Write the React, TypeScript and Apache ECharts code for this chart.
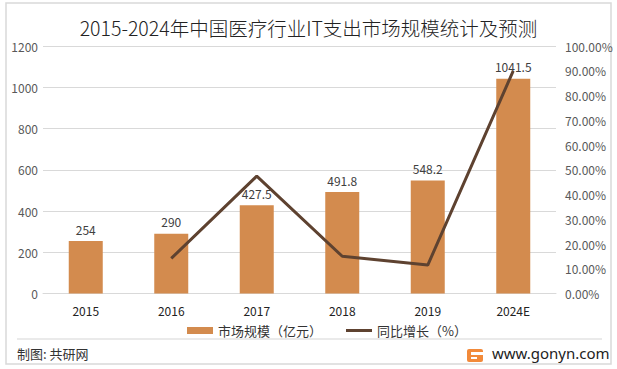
import React, { useEffect, useRef } from "react";
import * as echarts from "echarts";

const categories = ["2015", "2016", "2017", "2018", "2019", "2024E"];
const marketSize = [254, 290, 427.5, 491.8, 548.2, 1041.5];
const growth = [null, 0.1417, 0.4741, 0.1504, 0.1147, 0.8999];
const seriesNames = ["市场规模（亿元）", "同比增长（%）"];
const titleText = "2015-2024年中国医疗行业IT支出市场规模统计及预测";
const sourceText = "制图: 共研网";
const siteText = "www.gonyn.com";

const FONT = "'Noto Sans CJK SC', 'Noto Sans', sans-serif";

export default function App() {
  const ref = useRef<HTMLDivElement>(null);
  useEffect(() => {
    if (!ref.current) return;
    const chart = echarts.init(ref.current, null, { renderer: "svg" });
    chart.setOption({
      animation: false,
      backgroundColor: "#ffffff",
      textStyle: { fontFamily: FONT },
      title: {
        text: titleText,
        left: "center",
        top: 13,
        textStyle: { fontSize: 19.5, fontWeight: 300, color: "#222222", fontFamily: FONT },
      },
      grid: { left: 43, right: 61, top: 46, bottom: 75.5 },
      legend: {
        left: 182,
        top: 319,
        itemWidth: 26,
        itemHeight: 7,
        itemGap: 24,
        textStyle: { fontSize: 13, color: "#333333", fontFamily: FONT },
        data: [
          { name: seriesNames[0], icon: "rect" },
          { name: seriesNames[1], icon: "path://M0,0h26v3h-26z" },
        ],
      },
      xAxis: {
        type: "category",
        data: categories,
        axisTick: { show: false },
        axisLine: { lineStyle: { color: "#d9d9d9" } },
        axisLabel: { color: "#222222", fontSize: 12, margin: 11, fontFamily: FONT },
      },
      yAxis: [
        {
          type: "value",
          min: 0,
          max: 1200,
          interval: 200,
          axisLine: { show: false },
          axisTick: { show: false },
          splitLine: { lineStyle: { color: "#d9d9d9" } },
          axisLabel: {
            color: "#595959",
            fontSize: 12,
            margin: 5,
            fontFamily: FONT,
            formatter: (v: number) => String(v),
          },
        },
        {
          type: "value",
          min: 0,
          max: 1,
          interval: 0.1,
          axisLine: { show: false },
          axisTick: { show: false },
          splitLine: { show: false },
          axisLabel: {
            color: "#595959",
            fontSize: 12,
            margin: 9,
            fontFamily: FONT,
            formatter: (v: number) => (v * 100).toFixed(2) + "%",
          },
        },
      ],
      series: [
        {
          name: seriesNames[0],
          type: "bar",
          data: marketSize,
          barWidth: 34,
          itemStyle: { color: "#d38b4e" },
          label: {
            show: true,
            position: "top",
            distance: 6,
            color: "#404040",
            fontSize: 12,
            fontFamily: FONT,
          },
        },
        {
          name: seriesNames[1],
          type: "line",
          yAxisIndex: 1,
          data: growth,
          symbol: "none",
          showSymbol: false,
          connectNulls: false,
          lineStyle: { color: "#5e4230", width: 3 },
          itemStyle: { color: "#5e4230" },
        },
      ],
      graphic: [
        {
          type: "rect",
          shape: { x: 6, y: 3, width: 605, height: 361 },
          style: { fill: "none", stroke: "#d9d9d9", lineWidth: 1.5 },
          silent: true,
        },
        {
          type: "line",
          shape: { x1: 17, y1: 339, x2: 602, y2: 339 },
          style: { stroke: "#e3e3e3", lineWidth: 1.5 },
          silent: true,
        },
        {
          type: "text",
          left: 17,
          top: 347,
          style: { text: sourceText, fontSize: 13, fill: "#333333", fontFamily: FONT },
        },
        {
          type: "rect",
          shape: { x: 467, y: 349, width: 16, height: 13, r: 2 },
          style: { fill: "#f28a3a" },
        },
        {
          type: "rect",
          shape: { x: 471, y: 352, width: 12, height: 3 },
          style: { fill: "#ffffff" },
        },
        {
          type: "rect",
          shape: { x: 471, y: 357, width: 6, height: 2 },
          style: { fill: "#ffffff" },
        },
        {
          type: "text",
          left: 492,
          top: 345,
          style: { text: siteText, fontSize: 15, fill: "#222222", fontFamily: "'Noto Sans', sans-serif" },
        },
      ],
    });
    return () => chart.dispose();
  }, []);
  return (
    <div
      ref={ref}
      style={{ position: "absolute", left: 0, top: 0, width: 617, height: 369 }}
    />
  );
}
